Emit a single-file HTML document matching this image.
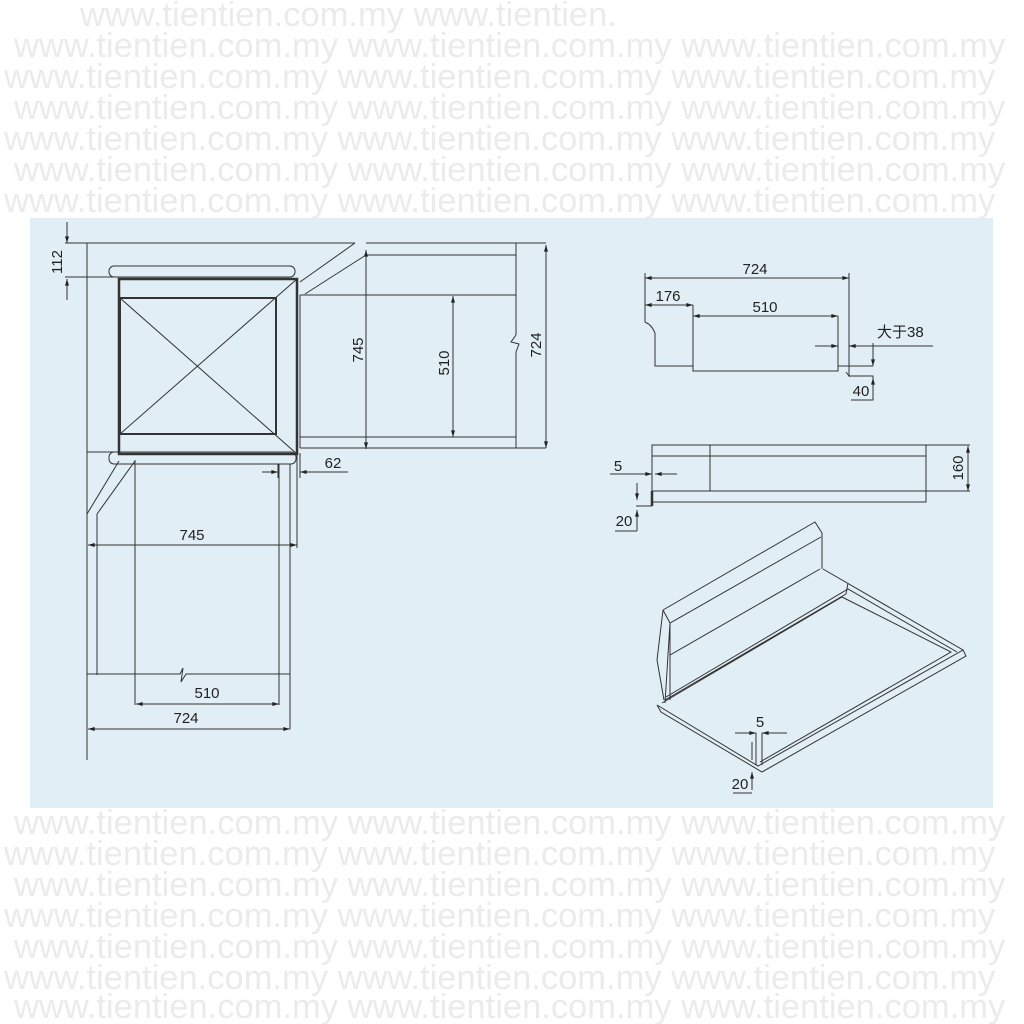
<!DOCTYPE html>
<html><head><meta charset="utf-8"><style>
html,body{margin:0;padding:0;background:#fff;width:1024px;height:1024px;overflow:hidden}
svg{display:block}
.wm{font-family:"Liberation Sans",sans-serif;font-size:34.5px;fill:#ebebeb}
.t{font-family:"Liberation Sans","Noto Sans CJK SC",sans-serif;font-size:15px;fill:#222}
</style></head><body>
<svg width="1024" height="1024" viewBox="0 0 1024 1024" xmlns="http://www.w3.org/2000/svg">
<defs>
<marker id="a" viewBox="0 0 10 6" refX="10" refY="3" markerWidth="8" markerHeight="4" orient="auto-start-reverse"><path d="M0,0 L10,3 L0,6z" fill="#222"/></marker>
</defs>
<g class="wm">
<text x="80" y="26">www.tientien.com.my www.tientien.</text>
<text x="14" y="57">www.tientien.com.my www.tientien.com.my www.tientien.com.my</text>
<text x="4" y="88">www.tientien.com.my www.tientien.com.my www.tientien.com.my</text>
<text x="14" y="119">www.tientien.com.my www.tientien.com.my www.tientien.com.my</text>
<text x="4" y="150">www.tientien.com.my www.tientien.com.my www.tientien.com.my</text>
<text x="14" y="181">www.tientien.com.my www.tientien.com.my www.tientien.com.my</text>
<text x="4" y="212">www.tientien.com.my www.tientien.com.my www.tientien.com.my</text>
<text x="14" y="834">www.tientien.com.my www.tientien.com.my www.tientien.com.my</text>
<text x="4" y="865">www.tientien.com.my www.tientien.com.my www.tientien.com.my</text>
<text x="14" y="896">www.tientien.com.my www.tientien.com.my www.tientien.com.my</text>
<text x="4" y="927">www.tientien.com.my www.tientien.com.my www.tientien.com.my</text>
<text x="14" y="958">www.tientien.com.my www.tientien.com.my www.tientien.com.my</text>
<text x="4" y="989">www.tientien.com.my www.tientien.com.my www.tientien.com.my</text>
<text x="14" y="1018">www.tientien.com.my www.tientien.com.my www.tientien.com.my</text>
</g>
<rect x="30" y="218" width="963" height="590" fill="#e1eef6"/>
<g fill="none" stroke="#333" stroke-width="1">
<path d="M65,243 H355 M366,243 H546 M87,243 V760"/>
<path d="M67,222 V243" marker-end="url(#a)"/><path d="M67,300 V279" marker-end="url(#a)"/>
<path d="M65,277 H120"/>
<rect x="109" y="266" width="186" height="11" rx="5"/>
<rect x="109" y="452" width="187" height="12" rx="5"/>
<rect x="119" y="279" width="178" height="175" stroke-width="2.5"/>
<rect x="120" y="298" width="156" height="136" stroke-width="2"/>
<path d="M120,298 L297,454 M297,279 L120,434"/>
<path d="M87,452 H120"/>
<path d="M366,255 H516 M300,295 H516 M300,437 H516 M300,448 H546 M300,295 V448 M516,243 V335 M516,352 V448 M516,335 l-5,7 l8,2 l-3,8"/>
<path d="M355,243 L300,282 M366,255 L305,294"/>
<path d="M366,250 V449" marker-start="url(#a)" marker-end="url(#a)"/>
<path d="M453,296 V437" marker-start="url(#a)" marker-end="url(#a)"/>
<path d="M546,245 V448" marker-start="url(#a)" marker-end="url(#a)"/>
<path d="M300,453 V478 M278,464 V478"/>
<path d="M262,472 H278" marker-end="url(#a)"/><path d="M348,472 H300" marker-end="url(#a)"/>
<path d="M119,461 L87,514 M135,461 L97,514 M97,514 V675 M135,460 V705 M279,464 V705 M290,464 V729 M297,454 V548"/>
<path d="M87,674 H180 l3,-6 l-2,14 l5,-8 H290"/>
<path d="M88,545 H297" marker-start="url(#a)" marker-end="url(#a)"/>
<path d="M136,704 H279" marker-start="url(#a)" marker-end="url(#a)"/>
<path d="M88,729 H290" marker-start="url(#a)" marker-end="url(#a)"/>
<path d="M645,273 V322 Q652,325 655,333 V366 H693 M693,305 V371 H838 V316 M849,273 V376 L846,372 M838,366 H873 M849,376 H873 V400 H851"/>
<path d="M645,278 H849" marker-start="url(#a)" marker-end="url(#a)"/>
<path d="M645,305 H693" marker-start="url(#a)" marker-end="url(#a)"/>
<path d="M693,316 H838" marker-start="url(#a)" marker-end="url(#a)"/>
<path d="M815,346 H838" marker-end="url(#a)"/><path d="M933,346 H849" marker-end="url(#a)"/>
<path d="M873,343 V366" marker-end="url(#a)"/><path d="M873,396 V378" marker-end="url(#a)"/>
<rect x="652" y="445" width="274" height="57"/>
<path d="M652,456 H926 M652,491 H970 M710,445 V491 M926,445 H970 M652,445 V506" />
<path d="M652,491 V506" stroke-width="2.5"/>
<path d="M968,446 V491" marker-start="url(#a)" marker-end="url(#a)"/>
<path d="M610,474 H652" marker-end="url(#a)"/><path d="M677,474 H655" marker-end="url(#a)"/>
<path d="M637,483 V500" marker-end="url(#a)"/><path d="M637,531 V510" marker-end="url(#a)"/>
<path d="M636,506 H652 M615,531 H637"/>
<path d="M663,610 L815,522 L822,533 L822,569 M663,610 L670,623 L821,537 M670,623 V655 L820,569 M663,610 L657,660 L664,700 M670,623 L665,703"/>
<path d="M657,705 L758,766 L963,650 L823,569 M657,705 L661,712 L762,772 L966,656 L963,650 M662,703 L842,597 L951,652 L760,762 M670,655 L670,700 M665,700 L846,594 M846,594 L848,583 M666,697 L848,589 L957,652"/>
<path d="M735,733 H756" marker-end="url(#a)"/><path d="M787,733 H762" marker-end="url(#a)"/>
<path d="M756,733 V765 M762,733 V765 M752,742 V760 M733,793 H752"/>
<path d="M752,790 V772" marker-end="url(#a)"/>
</g>
<g class="t">
<text x="62" y="262" transform="rotate(-90 62 262)" text-anchor="middle">112</text>
<text x="363" y="350" transform="rotate(-90 363 350)" text-anchor="middle">745</text>
<text x="449" y="363" transform="rotate(-90 449 363)" text-anchor="middle">510</text>
<text x="541" y="345" transform="rotate(-90 541 345)" text-anchor="middle">724</text>
<text x="333" y="468" text-anchor="middle">62</text>
<text x="192" y="540" text-anchor="middle">745</text>
<text x="207" y="698" text-anchor="middle">510</text>
<text x="186" y="723" text-anchor="middle">724</text>
<text x="755" y="274" text-anchor="middle">724</text>
<text x="668" y="301" text-anchor="middle">176</text>
<text x="765" y="312" text-anchor="middle">510</text>
<text x="877" y="337">大于38</text>
<text x="861" y="396" text-anchor="middle">40</text>
<text x="963" y="468" transform="rotate(-90 963 468)" text-anchor="middle">160</text>
<text x="618" y="471" text-anchor="middle">5</text>
<text x="624" y="526" text-anchor="middle">20</text>
<text x="760" y="727" text-anchor="middle">5</text>
<text x="740" y="789" text-anchor="middle">20</text>
</g>
</svg>
</body></html>
